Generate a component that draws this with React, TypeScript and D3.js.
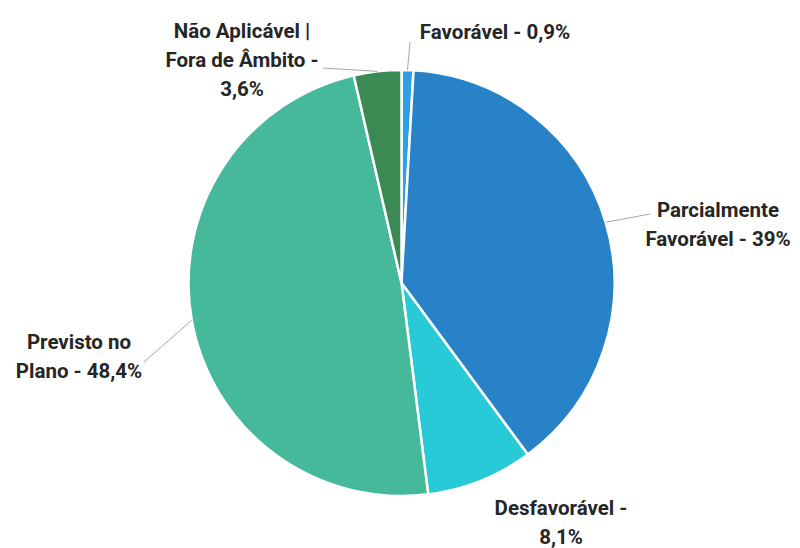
import * as d3 from "d3";

const categories = [
  "Favorável",
  "Parcialmente Favorável",
  "Desfavorável",
  "Previsto no Plano",
  "Não Aplicável | Fora de Âmbito",
];
const values = [0.9, 39, 8.1, 48.4, 3.6];
const labelLines = [
  ["Favorável - 0,9%"],
  ["Parcialmente", "Favorável - 39%"],
  ["Desfavorável -", "8,1%"],
  ["Previsto no", "Plano - 48,4%"],
  ["Não Aplicável |", "Fora de Âmbito -", "3,6%"],
];
const colors = ["#2e9fe3", "#2782c7", "#27cad6", "#45b999", "#3b8953"];

// label layout: text center x, first baseline y, leader end point (null = none)
const labelLayout: { x: number; y: number; leader: [number, number] | null }[] = [
  { x: 495, y: 39, leader: [410, 42] },
  { x: 718, y: 217, leader: [650, 214] },
  { x: 561, y: 515, leader: null },
  { x: 79, y: 349, leader: [144, 362] },
  { x: 242, y: 38, leader: [323, 68] },
];

export default function App() {
  const width = 800;
  const height = 548;
  const cx = 401.5;
  const cy = 283;
  const r = 213;

  const pie = d3
    .pie<number>()
    .sort(null)
    .value((d) => d);
  const arcs = pie(values);
  const arc = d3.arc<d3.PieArcDatum<number>>().innerRadius(0).outerRadius(r);
  const edge = d3.arc<d3.PieArcDatum<number>>().innerRadius(r).outerRadius(r);

  return (
    <svg
      width={width}
      height={height}
      style={{ position: "absolute", left: 0, top: 0, background: "#fff" }}
      fontFamily="Roboto, sans-serif"
    >
      <g transform={`translate(${cx},${cy})`}>
        {arcs.map((a, i) => (
          <path
            key={categories[i]}
            d={arc(a) ?? ""}
            fill={colors[i]}
            stroke="#fff"
            strokeWidth={2.5}
            strokeLinejoin="round"
          />
        ))}
      </g>
      {arcs.map((a, i) => {
        const lay = labelLayout[i];
        const [ex, ey] = edge.centroid(a);
        return (
          <g key={"l" + i}>
            {lay.leader && (
              <line
                x1={cx + ex}
                y1={cy + ey}
                x2={lay.leader[0]}
                y2={lay.leader[1]}
                stroke="#a6a6a6"
                strokeWidth={1}
              />
            )}
            <text
              x={lay.x}
              y={lay.y}
              textAnchor="middle"
              fontSize={20.5}
              fontWeight="bold"
              fill="#262626"
            >
              {labelLines[i].map((t, j) => (
                <tspan key={j} x={lay.x} dy={j === 0 ? 0 : 29}>
                  {t}
                </tspan>
              ))}
            </text>
          </g>
        );
      })}
    </svg>
  );
}
